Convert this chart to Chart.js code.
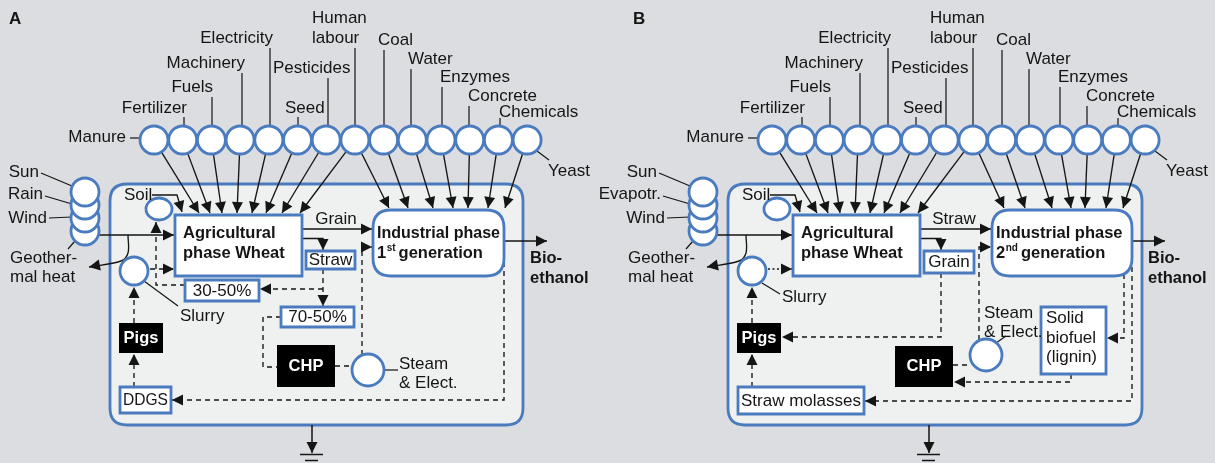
<!DOCTYPE html>
<html><head><meta charset="utf-8">
<script src="https://cdn.jsdelivr.net/npm/chart.js@4"></script>
<style>html,body{margin:0;padding:0;background:#dcdde0;}canvas{display:block}</style>
</head><body>
<canvas id="c" width="1215" height="463" style="width:1215px;height:463px"></canvas>
<script>
// ---------------- DATA ----------------
const panelLabels = ['A', 'B'];
const inputNames = ['Manure','Fertilizer','Fuels','Machinery','Electricity','Seed','Pesticides','Human labour','Coal','Water','Enzymes','Concrete','Chemicals','Yeast'];
const toAgricultural = ['Manure','Fertilizer','Fuels','Machinery','Electricity','Seed','Pesticides','Human labour'];
const toIndustrial = ['Human labour','Coal','Water','Enzymes','Concrete','Chemicals','Yeast'];
const naturalInputsA = ['Sun','Rain','Wind','Geothermal heat'];
const naturalInputsB = ['Sun','Evapotr.','Wind','Geothermal heat'];
const generations = ['1st', '2nd'];
const mainProducts = ['Grain', 'Straw'];
const coProducts = ['Straw', 'Grain'];
const feedProducts = ['DDGS', 'Straw molasses'];
const strawShares = ['30-50%', '70-50%'];
const ligninProduct = ['Solid', 'biofuel', '(lignin)'];

// ---------------- LAYOUT / STYLE ----------------
const W = 1215, H = 463;
const FONT = '"Liberation Sans", Arial, sans-serif';
const INK = '#151515', BLUE = '#4a7bbf', BG = '#dcdde0', PANEL = '#eff0f0';
const BW = 2.8;
const DX = [0, 618];
const CX0 = 154, CSTEP = 28.7, CY = 140, R = 14;
const agriTipX = [199, 210, 222, 237, 252, 266, 282, 300];
const indTipX = [[389, 408, 433, 453, 468, 488, 505], [1004, 1025, 1052, 1071, 1085, 1106, 1123]];
const DASH = [5, 4];

const lineSets = [];
function addLine(pts, o = {}) {
  lineSets.push({
    data: pts.map(p => ({x: p[0], y: p[1]})),
    showLine: true, pointRadius: 0, borderColor: INK,
    borderWidth: o.w || 1.35, borderDash: o.dash || [], tension: o.tension || 0,
    arrow: !!o.arrow, order: 2
  });
}

const topCircles = [], natCircles = [], otherCircles = [], bigCircles = [];
const boxes = [];   // {x1,y1,x2,y2,kind}
const texts = [];   // {t,x,y,align,bold,size,color,max}
function T(t, x, y, o = {}) { texts.push(Object.assign({t, x, y, align: 'left', bold: false, size: 17, color: INK}, o)); }

panelLabels.forEach((lab, p) => {
  const d = DX[p];
  T(lab, [9, 633][p], 19, {bold: true, size: 17});
  // top inputs
  const cx = i => CX0 + d + CSTEP * i;
  inputNames.forEach((n, i) => topCircles.push({x: cx(i), y: CY}));
  function inArrow(i, tx, ty) {
    const x0 = cx(i), y0 = CY; const ang = Math.atan2(ty - y0, tx - x0);
    addLine([[x0 + R * Math.cos(ang), y0 + R * Math.sin(ang)], [tx, ty]], {arrow: true});
  }
  toAgricultural.forEach((n, k) => inArrow(inputNames.indexOf(n), agriTipX[k] + d, 213));
  toIndustrial.forEach((n, k) => inArrow(inputNames.indexOf(n), indTipX[p][k], 208));
  // top labels & leaders
  const lbl = {
    'Manure': {x: 126, y: 137, a: 'right'}, 'Fertilizer': {x: 187, y: 108, a: 'right', l: [184, 117]},
    'Fuels': {x: 213, y: 87, a: 'right', l: [212, 97]}, 'Machinery': {x: 245, y: 63, a: 'right', l: [242, 73]},
    'Electricity': {x: 273, y: 38, a: 'right', l: [270, 48]}, 'Seed': {x: 285, y: 108, a: 'left', l: [298, 117]},
    'Pesticides': {x: 273, y: 68, a: 'left', l: [328, 78]}, 'Coal': {x: 378, y: 40, a: 'left', l: [384, 50]},
    'Water': {x: 408, y: 59, a: 'left', l: [411, 69]}, 'Enzymes': {x: 440, y: 77, a: 'left', l: [442, 87]},
    'Concrete': {x: 468, y: 96, a: 'left', l: [469, 106]}, 'Chemicals': {x: 499, y: 112, a: 'left', l: [500, 118]},
    'Yeast': {x: 548, y: 171, a: 'left'}
  };
  inputNames.forEach(n => {
    if (n === 'Human labour') {
      T('Human', 312 + d, 18); T('labour', 312 + d, 38);
      addLine([[355 + d, 48], [355 + d, 126]], {w: 1.2});
      return;
    }
    const s = lbl[n]; T(n, s.x + d, s.y, {align: s.a});
    if (s.l) addLine([[s.l[0] + d, s.l[1]], [s.l[0] + d, 126]], {w: 1.2});
  });
  addLine([[130 + d, 138], [140 + d, 138]], {w: 1.2});
  addLine([[537 + d, 151], [549 + d, 160]], {w: 1.2});

  // natural inputs stack (drawn bottom first)
  [231, 218, 205, 192].forEach(y => natCircles.push({x: 85 + d, y}));
  const nat = p === 0 ? naturalInputsA : naturalInputsB;
  T(nat[0], 39 + d, 172, {align: 'right'});
  T(nat[1], 43 + d, 194, {align: 'right'});
  T(nat[2], 47 + d, 218, {align: 'right'});
  T('Geother-', 10 + d, 258); T('mal heat', 10 + d, 277);
  addLine([[41 + d, 173], [72 + d, 186]], {w: 1.2});
  addLine([[45 + d, 196], [72 + d, 204]], {w: 1.2});
  addLine([[49 + d, 218], [72 + d, 217]], {w: 1.2});
  addLine([[68 + d, 249], [75 + d, 241]], {w: 1.2});
  addLine([[99 + d, 235], [174 + d, 235]], {arrow: true});
  addLine([[128 + d, 235], [128 + d, 253], [121 + d, 261], [89 + d, 267]], {arrow: true, tension: 0.35});

  // soil
  T('Soil', 124 + d, 195);
  addLine([[152 + d, 195], [177 + d, 195], [182 + d, 212]], {arrow: true});

  // agriculture & industry boxes
  boxes.push({x1: 175 + d, y1: 215, x2: 302 + d, y2: 276, kind: 'blue'});
  T('Agricultural', 183 + d, 233, {bold: true, size: 16.5});
  T('phase Wheat', 183 + d, 253, {bold: true, size: 16.5});
  const ind = p === 0 ? [373, 504] : [992, 1132];
  boxes.push({x1: ind[0], y1: 210, x2: ind[1], y2: 276, kind: 'round'});
  T('Industrial phase', ind[0] + 4, 233, {bold: true, size: 16.5, max: ind[1] - ind[0] - 8});
  texts.push({gen: generations[p], x: ind[0] + 4, y: 253});
  // bio-ethanol
  addLine([[ind[1], 241], [ind[1] + (p ? 33 : 43), 241]], {arrow: true});
  T('Bio-', ind[1] + (p ? 16 : 26), 258, {bold: true, size: 16.5});
  T('ethanol', ind[1] + (p ? 16 : 26), 278, {bold: true, size: 16.5});

  // main product arrow and co-product branch
  addLine([[302 + d, 229], [372 + (p ? 1 : 0) + d, 229]], {arrow: true});
  T(mainProducts[p], 336 + d, 219, {align: 'center'});
  addLine([[302 + d, 238.5], [323 + d, 238.5], [323 + d, 250]], {arrow: true});
  const cp = p === 0 ? [306, 251, 355, 269] : [924, 251, 974, 273];
  boxes.push({x1: cp[0], y1: cp[1], x2: cp[2], y2: cp[3], kind: 'blue'});
  T(coProducts[p], (cp[0] + cp[2]) / 2, (cp[1] + cp[3]) / 2 + 0.5, {align: 'center'});

  // slurry / pigs / feed
  otherCircles.push({x: 134 + d, y: 271});
  if (p === 0) {
    T('Slurry', 180, 316); addLine([[144, 281], [178, 306]], {w: 1.2});
    addLine([[150, 269], [174, 269]], {arrow: true, dash: DASH});
  } else {
    T('Slurry', 782, 297); addLine([[762, 283], [780, 294]], {w: 1.2});
    addLine([[768, 269], [792, 269]], {arrow: true, dash: [2, 2.5]});
  }
  boxes.push({x1: 119 + d, y1: 323, x2: 163 + d, y2: 353, kind: 'black'});
  T('Pigs', 141 + d, 338.5, {align: 'center', bold: true, size: 16.5, color: '#fff'});
  addLine([[134 + d, 323], [134 + d, 287]], {arrow: true, dash: DASH});
  addLine([[134 + d, 387], [134 + d, 354]], {arrow: true, dash: DASH});
  const fb = p === 0 ? [120, 387, 171, 413] : [738, 387, 864, 414];
  boxes.push({x1: fb[0], y1: fb[1], x2: fb[2], y2: fb[3], kind: 'blue'});
  T(feedProducts[p], (fb[0] + fb[2]) / 2, (fb[1] + fb[3]) / 2 + 0.5, {align: 'center', max: fb[2] - fb[0] - 6});

  // ground
  addLine([[312 + (p ? 617 : 0), 425], [312 + (p ? 617 : 0), 453]], {arrow: true, w: 1.5});
  addLine([[300 + (p ? 617 : 0), 454.5], [323 + (p ? 617 : 0), 454.5]], {w: 1.5});
  addLine([[305 + (p ? 617 : 0), 460.5], [318 + (p ? 617 : 0), 460.5]], {w: 1.5});
});

// ---- panel A specific ----
addLine([[323, 269], [323, 306]], {arrow: true, dash: DASH});
addLine([[323, 289], [260, 289]], {arrow: true, dash: DASH});
boxes.push({x1: 185, y1: 280, x2: 259, y2: 301, kind: 'blue'});
T(strawShares[0], 222, 291, {align: 'center'});
addLine([[185, 285], [156, 285], [156, 222]], {arrow: true, dash: DASH});
boxes.push({x1: 281, y1: 307, x2: 354, y2: 327, kind: 'blue'});
T(strawShares[1], 317.5, 317.5, {align: 'center'});
addLine([[281, 317], [263, 317], [263, 367], [277, 367]], {dash: DASH});
boxes.push({x1: 277, y1: 345, x2: 335, y2: 387, kind: 'black'});
T('CHP', 306, 366.5, {align: 'center', bold: true, size: 16.5, color: '#fff'});
addLine([[335, 366], [352, 366]], {dash: DASH});
bigCircles.push({x: 368, y: 370});
T('Steam', 399, 364); T('& Elect.', 399, 383);
addLine([[384, 370], [398, 370]], {w: 1.2});
addLine([[362, 355], [362, 247], [372, 247]], {arrow: true, dash: DASH});
addLine([[504, 262], [504, 400], [172, 400]], {arrow: true, dash: DASH});

// ---- panel B specific ----
addLine([[941, 273], [941, 337], [782, 337]], {arrow: true, dash: DASH});
addLine([[1132, 267], [1132, 401], [865, 401]], {arrow: true, dash: DASH});
addLine([[1124, 274], [1124, 338], [1107, 338]], {arrow: true, dash: DASH});
boxes.push({x1: 1041, y1: 307, x2: 1106, y2: 374, kind: 'blue'});
T(ligninProduct[0], 1046, 318); T(ligninProduct[1], 1046, 338); T(ligninProduct[2], 1046, 357);
addLine([[1071, 374], [1071, 382], [954, 382]], {arrow: true, dash: DASH});
boxes.push({x1: 895, y1: 346, x2: 953, y2: 387, kind: 'black'});
T('CHP', 924, 366.5, {align: 'center', bold: true, size: 16.5, color: '#fff'});
addLine([[953, 365], [971, 365]], {dash: DASH});
bigCircles.push({x: 986, y: 355});
T('Steam', 984, 313); T('& Elect.', 984, 332);
addLine([[996, 343], [1006, 336]], {w: 1.2});
addLine([[979, 340], [979, 247], [991, 247]], {arrow: true, dash: DASH});

// ---------------- CHART ----------------
const circleStyle = {showLine: false, pointBackgroundColor: '#fff', pointBorderColor: BLUE, pointBorderWidth: BW, order: 0};
const datasets = [
  Object.assign({data: topCircles, pointRadius: R}, circleStyle),
  Object.assign({data: natCircles, pointRadius: R}, circleStyle),
  Object.assign({data: otherCircles, pointRadius: R}, circleStyle),
  Object.assign({data: bigCircles, pointRadius: 16}, circleStyle),
  ...lineSets
];

function rr(ctx, x, y, w, h, r) {
  ctx.beginPath(); ctx.moveTo(x + r, y); ctx.lineTo(x + w - r, y); ctx.quadraticCurveTo(x + w, y, x + w, y + r);
  ctx.lineTo(x + w, y + h - r); ctx.quadraticCurveTo(x + w, y + h, x + w - r, y + h);
  ctx.lineTo(x + r, y + h); ctx.quadraticCurveTo(x, y + h, x, y + h - r);
  ctx.lineTo(x, y + r); ctx.quadraticCurveTo(x, y, x + r, y); ctx.closePath();
}

const diagram = {
  id: 'diagram',
  beforeDatasetsDraw(chart) {
    const ctx = chart.ctx, sx = v => chart.scales.x.getPixelForValue(v), sy = v => chart.scales.y.getPixelForValue(v);
    ctx.save();
    ctx.fillStyle = BG; ctx.fillRect(0, 0, chart.width, chart.height);
    [[110, 523], [728, 1142]].forEach(([a, b]) => {
      rr(ctx, sx(a), sy(184), sx(b) - sx(a), sy(425) - sy(184), 17);
      ctx.fillStyle = PANEL; ctx.fill(); ctx.lineWidth = BW; ctx.strokeStyle = BLUE; ctx.stroke();
    });
    ctx.restore();
  },
  afterDatasetsDraw(chart) {
    const ctx = chart.ctx, sx = v => chart.scales.x.getPixelForValue(v), sy = v => chart.scales.y.getPixelForValue(v);
    ctx.save();
    // arrowheads
    chart.data.datasets.forEach((ds, i) => {
      if (!ds.arrow) return;
      const pts = chart.getDatasetMeta(i).data; const n = pts.length;
      const a = pts[n - 2], b = pts[n - 1];
      const ang = Math.atan2(b.y - a.y, b.x - a.x), L = 11, hw = 5.5;
      ctx.beginPath(); ctx.moveTo(b.x, b.y);
      ctx.lineTo(b.x - L * Math.cos(ang) + hw * Math.sin(ang), b.y - L * Math.sin(ang) - hw * Math.cos(ang));
      ctx.lineTo(b.x - L * Math.cos(ang) - hw * Math.sin(ang), b.y - L * Math.sin(ang) + hw * Math.cos(ang));
      ctx.closePath(); ctx.fillStyle = INK; ctx.fill();
    });
    // soil ellipses
    DX.forEach(d => {
      ctx.beginPath(); ctx.ellipse(sx(159 + d), sy(209), 13, 11, 0, 0, Math.PI * 2);
      ctx.fillStyle = '#fff'; ctx.fill(); ctx.lineWidth = BW; ctx.strokeStyle = BLUE; ctx.stroke();
    });
    // boxes
    boxes.forEach(b => {
      const x = sx(b.x1), y = sy(b.y1), w = sx(b.x2) - x, h = sy(b.y2) - y;
      if (b.kind === 'black') { ctx.fillStyle = '#000'; ctx.fillRect(x, y, w, h); return; }
      if (b.kind === 'round') rr(ctx, x, y, w, h, 18); else { ctx.beginPath(); ctx.rect(x, y, w, h); }
      ctx.fillStyle = '#fff'; ctx.fill(); ctx.lineWidth = BW; ctx.strokeStyle = BLUE; ctx.stroke();
    });
    // texts
    ctx.textBaseline = 'middle';
    texts.forEach(t => {
      if (t.gen) {
        let x = sx(t.x); const y = sy(t.y);
        ctx.textAlign = 'left'; ctx.fillStyle = INK;
        ctx.font = `bold 16.5px ${FONT}`; ctx.fillText(t.gen[0], x, y); x += ctx.measureText(t.gen[0]).width + 0.5;
        ctx.font = `bold 10px ${FONT}`; ctx.fillText(t.gen.slice(1), x, y - 5); x += ctx.measureText(t.gen.slice(1)).width + 3;
        ctx.font = `bold 16.5px ${FONT}`; ctx.fillText('generation', x, y);
        return;
      }
      ctx.font = `${t.bold ? 'bold ' : ''}${t.size}px ${FONT}`;
      ctx.textAlign = t.align; ctx.fillStyle = t.color;
      if (t.max) ctx.fillText(t.t, sx(t.x), sy(t.y), t.max); else ctx.fillText(t.t, sx(t.x), sy(t.y));
    });
    ctx.restore();
  }
};

new Chart(document.getElementById('c'), {
  type: 'scatter',
  data: {datasets},
  options: {
    responsive: false, animation: false, devicePixelRatio: 1, events: [],
    layout: {padding: 0, autoPadding: false},
    plugins: {legend: {display: false}, tooltip: {enabled: false}},
    scales: {
      x: {type: 'linear', min: 0, max: W, display: false},
      y: {type: 'linear', min: 0, max: H, reverse: true, display: false}
    }
  },
  plugins: [diagram]
});
</script>
</body></html>
